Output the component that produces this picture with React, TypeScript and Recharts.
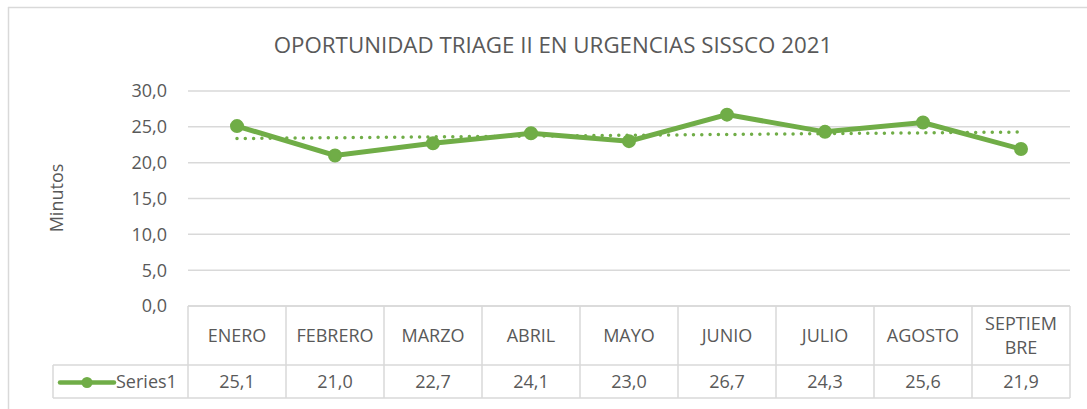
import React from "react";
import { LineChart, Line, XAxis, YAxis, CartesianGrid } from "recharts";

const months = ["ENERO", "FEBRERO", "MARZO", "ABRIL", "MAYO", "JUNIO", "JULIO", "AGOSTO", "SEPTIEMBRE"];
const series1 = [25.1, 21.0, 22.7, 24.1, 23.0, 26.7, 24.3, 25.6, 21.9];
const yTicks = [0, 5, 10, 15, 20, 25, 30];
const seriesName = "Series1";
const title = "OPORTUNIDAD TRIAGE II EN URGENCIAS SISSCO 2021";
const yLabel = "Minutos";

// Excel-style linear trendline (least squares over the series)
const n = series1.length;
const xMean = (n + 1) / 2;
const yMean = series1.reduce((a, b) => a + b, 0) / n;
let sxy = 0, sxx = 0;
series1.forEach((v, i) => { const dx = i + 1 - xMean; sxy += dx * v; sxx += dx * dx; });
const slope = sxy / sxx;
const intercept = yMean - slope * xMean;

const data = months.map((m, i) => ({ month: m, value: series1[i], trend: intercept + slope * (i + 1) }));

const GREEN = "#70AD47";
const GRID = "#D9D9D9";
const TEXT = "#595959";
const FONT = "'Open Sans', sans-serif";

const W = 1087, H = 409;
const PLOT_LEFT = 188, PLOT_RIGHT = 1070, PLOT_TOP = 91, PLOT_BOTTOM = 306;
const COL_W = (PLOT_RIGHT - PLOT_LEFT) / months.length;
const ROW1_BOTTOM = 365, ROW2_BOTTOM = 398;
const LEGEND_LEFT = 53;

const fmt = (v: number) => v.toFixed(1).replace(".", ",");

const wrap = (s: string) => (s.length > 8 ? [s.slice(0, 7), s.slice(7)] : [s]);

const TableTick = (props: any) => {
  const { x, index, payload } = props;
  const i = index ?? payload?.index ?? 0;
  const label = payload?.value ?? months[i];
  const left = x - COL_W / 2;
  const right = x + COL_W / 2;
  const lines = wrap(String(label));
  const headMid = (PLOT_BOTTOM + ROW1_BOTTOM) / 2;
  const valMid = (ROW1_BOTTOM + ROW2_BOTTOM) / 2;
  const lh = 24;
  return (
    <g>
      <line x1={left} x2={right} y1={PLOT_BOTTOM} y2={PLOT_BOTTOM} stroke={GRID} strokeWidth={1.5} />
      <line x1={left} x2={right} y1={ROW1_BOTTOM} y2={ROW1_BOTTOM} stroke={GRID} strokeWidth={1.5} />
      <line x1={left} x2={right} y1={ROW2_BOTTOM} y2={ROW2_BOTTOM} stroke={GRID} strokeWidth={1.5} />
      <line x1={left} x2={left} y1={PLOT_BOTTOM} y2={ROW2_BOTTOM} stroke={GRID} strokeWidth={1.5} />
      {i === months.length - 1 && (
        <line x1={right} x2={right} y1={PLOT_BOTTOM} y2={ROW2_BOTTOM} stroke={GRID} strokeWidth={1.5} />
      )}
      {i === 0 && (
        <g>
          <line x1={LEGEND_LEFT} x2={left} y1={ROW1_BOTTOM} y2={ROW1_BOTTOM} stroke={GRID} strokeWidth={1.5} />
          <line x1={LEGEND_LEFT} x2={left} y1={ROW2_BOTTOM} y2={ROW2_BOTTOM} stroke={GRID} strokeWidth={1.5} />
          <line x1={LEGEND_LEFT} x2={LEGEND_LEFT} y1={ROW1_BOTTOM} y2={ROW2_BOTTOM} stroke={GRID} strokeWidth={1.5} />
          <line x1={60} x2={114} y1={valMid + 1} y2={valMid + 1} stroke={GREEN} strokeWidth={4.5} strokeLinecap="round" />
          <circle cx={87} cy={valMid + 1} r={5.5} fill={GREEN} />
          <text x={116} y={valMid} dy="0.35em" fill={TEXT} fontFamily={FONT} fontSize={18}>{seriesName}</text>
        </g>
      )}
      {lines.map((t, k) => (
        <text key={k} x={x} y={headMid + (k - (lines.length - 1) / 2) * lh} dy="0.35em" textAnchor="middle" fill={TEXT} fontFamily={FONT} fontSize={18}>{t}</text>
      ))}
      <text x={x} y={valMid} dy="0.35em" textAnchor="middle" fill={TEXT} fontFamily={FONT} fontSize={18}>{fmt(series1[i])}</text>
    </g>
  );
};

export default function App() {
  const yAxisW = 80;
  return (
    <div style={{ position: "fixed", left: 0, top: 0, width: W, height: H, background: "#fff" }}>
      <svg width={W} height={H} style={{ position: "absolute", left: 0, top: 0 }}>
        <line x1={8} x2={W} y1={7.5} y2={7.5} stroke={GRID} strokeWidth={1.5} />
        <line x1={8.5} x2={8.5} y1={7} y2={H} stroke={GRID} strokeWidth={1.5} />
        <text x={553} y={45} dy="0.35em" textAnchor="middle" fill={TEXT} fontFamily={FONT} fontSize={22.3}>{title}</text>
        <text x={57} y={198} dy="0.35em" textAnchor="middle" fill={TEXT} fontFamily={FONT} fontSize={18} transform="rotate(-90 57 198)">{yLabel}</text>
      </svg>
      <div style={{ position: "absolute", left: 0, top: 0 }}>
        <LineChart
          width={W}
          height={H}
          data={data}
          margin={{ top: PLOT_TOP, right: W - PLOT_RIGHT, bottom: 0, left: PLOT_LEFT - yAxisW }}
        >
          <CartesianGrid vertical={false} stroke={GRID} strokeWidth={1.5} />
          <YAxis
            width={yAxisW}
            domain={[0, 30]}
            ticks={yTicks}
            tickFormatter={fmt}
            axisLine={false}
            tickLine={false}
            tickSize={0}
            tickMargin={21}
            tick={{ fill: TEXT, fontFamily: FONT, fontSize: 18 }}
          />
          <XAxis
            dataKey="month"
            height={H - PLOT_BOTTOM}
            padding={{ left: COL_W / 2, right: COL_W / 2 }}
            axisLine={false}
            tickLine={false}
            interval={0}
            tick={<TableTick />}
          />
          <Line
            dataKey="trend"
            stroke={GREEN}
            strokeWidth={3.5}
            strokeDasharray="0 8.3"
            strokeLinecap="round"
            dot={false}
            activeDot={false}
            isAnimationActive={false}
          />
          <Line
            dataKey="value"
            stroke={GREEN}
            strokeWidth={5}
            dot={{ r: 6, fill: GREEN, stroke: GREEN, strokeWidth: 2 }}
            activeDot={false}
            isAnimationActive={false}
          />
        </LineChart>
      </div>
    </div>
  );
}
